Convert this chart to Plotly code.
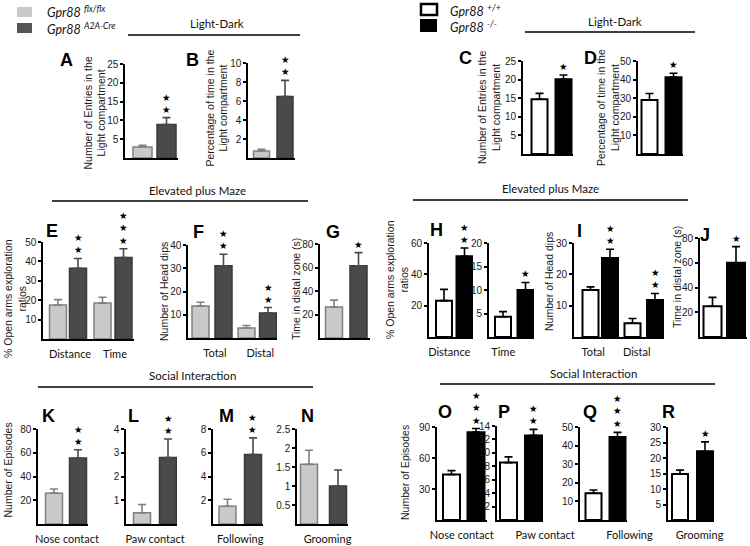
import plotly.graph_objects as go

W, H = 750, 546

# ---------------- data ----------------
left_genotypes = ["Gpr88 flx/flx", "Gpr88 A2A-Cre"]
right_genotypes = ["Gpr88 +/+", "Gpr88 -/-"]

A_categories = ["Entries"]
A_control = [2.9]
A_control_sem = [0.5]
A_mutant = [8.9]
A_mutant_sem = [1.85]
A_stars = [2]
A_yticks = [5, 10, 15, 20, 25]

B_categories = ["Time"]
B_control = [0.74]
B_control_sem = [0.18]
B_mutant = [6.47]
B_mutant_sem = [1.7]
B_stars = [2]
B_yticks = [2, 4, 6, 8, 10]

C_categories = ["Entries"]
C_control = [14.7]
C_control_sem = [1.6]
C_mutant = [20.1]
C_mutant_sem = [1.15]
C_stars = [1]
C_yticks = [5, 10, 15, 20, 25]

D_categories = ["Time"]
D_control = [29.0]
D_control_sem = [3.5]
D_mutant = [41.2]
D_mutant_sem = [2.2]
D_stars = [1]
D_yticks = [10, 20, 30, 40, 50]

E_categories = ["Distance", "Time"]
E_control = [17.5, 18.5]
E_control_sem = [2.8, 3.0]
E_mutant = [36.5, 42.0]
E_mutant_sem = [5.0, 4.5]
E_stars = [2, 3]
E_yticks = [10, 20, 30, 40, 50]

F_categories = ["Total", "Distal"]
F_control = [13.8, 4.3]
F_control_sem = [1.6, 1.1]
F_mutant = [31.1, 10.8]
F_mutant_sem = [4.9, 2.3]
F_stars = [2, 2]
F_yticks = [10, 20, 30, 40]

G_categories = ["Distal zone"]
G_control = [26.4]
G_control_sem = [5.8]
G_mutant = [61.5]
G_mutant_sem = [11.2]
G_stars = [1]
G_yticks = [20, 40, 60, 80]

H1_categories = ["Distance"]
H1_control = [23.2]
H1_control_sem = [7.2]
H1_mutant = [51.5]
H1_mutant_sem = [5.3]
H1_stars = [2]
H1_yticks = [20, 40, 60]

H2_categories = ["Time"]
H2_control = [4.3]
H2_control_sem = [1.1]
H2_mutant = [10.0]
H2_mutant_sem = [1.6]
H2_stars = [1]
H2_yticks = [5, 10, 15, 20]

I_categories = ["Total", "Distal"]
I_control = [15.0, 4.4]
I_control_sem = [1.0, 1.5]
I_mutant = [25.2, 11.8]
I_mutant_sem = [2.8, 2.1]
I_stars = [2, 2]
I_yticks = [10, 20, 30]

J_categories = ["Distal zone"]
J_control = [24.8]
J_control_sem = [7.2]
J_mutant = [60.0]
J_mutant_sem = [13.0]
J_stars = [1]
J_yticks = [20, 40, 60, 80]

K_categories = ["Nose contact"]
K_control = [26.0]
K_control_sem = [3.5]
K_mutant = [55.5]
K_mutant_sem = [7.0]
K_stars = [2]
K_yticks = [20, 40, 60, 80]

L_categories = ["Paw contact"]
L_control = [0.47]
L_control_sem = [0.35]
L_mutant = [2.8]
L_mutant_sem = [0.78]
L_stars = [2]
L_yticks = [1, 2, 3, 4]

M_categories = ["Following"]
M_control = [1.5]
M_control_sem = [0.58]
M_mutant = [5.85]
M_mutant_sem = [1.4]
M_stars = [2]
M_yticks = [2, 4, 6, 8]

N_categories = ["Grooming"]
N_control = [1.57]
N_control_sem = [0.37]
N_mutant = [1.0]
N_mutant_sem = [0.42]
N_stars = [0]
N_yticks = [0.5, 1, 1.5, 2, 2.5]

O_categories = ["Nose contact"]
O_control = [44.0]
O_control_sem = [3.8]
O_mutant = [85.0]
O_mutant_sem = [3.5]
O_stars = [3]
O_yticks = [30, 60, 90]

P_categories = ["Paw contact"]
P_control = [8.55]
P_control_sem = [0.85]
P_mutant = [12.6]
P_mutant_sem = [0.9]
P_stars = [2]
P_yticks = [2, 4, 6, 8, 10, 12, 14]

Q_categories = ["Following"]
Q_control = [14.4]
Q_control_sem = [1.7]
Q_mutant = [44.6]
Q_mutant_sem = [2.5]
Q_stars = [3]
Q_yticks = [10, 20, 30, 40, 50]

R_categories = ["Grooming"]
R_control = [14.8]
R_control_sem = [1.3]
R_mutant = [22.2]
R_mutant_sem = [3.0]
R_stars = [1]
R_yticks = [5, 10, 15, 20, 25, 30]

# ---------------- styles / layout geometry (pixels) ----------------
STYLES = {
    "L": dict(ctrl_fill="#c9c9c9", ctrl_line="#808080", mut_fill="#4a4a4a", mut_line="#3a3a3a",
              ctrl_err="#808080", mut_err="#4a4a4a", axis_w=1.5, bar_lw=1.5),
    "R": dict(ctrl_fill="#ffffff", ctrl_line="#000000", mut_fill="#000000", mut_line="#000000",
              ctrl_err="#000000", mut_err="#000000", axis_w=2, bar_lw=2),
}

def P(cats, ctrl, ctrl_sem, mut, mut_sem, stars, yticks, **geo):
    d = dict(cats=cats, ctrl=ctrl, ctrl_sem=ctrl_sem, mut=mut, mut_sem=mut_sem,
             stars=stars, yticks=yticks, catshift=0)
    d.update(geo)
    return d

panels = [
    P(A_categories, A_control, A_control_sem, A_mutant, A_mutant_sem, A_stars, A_yticks,
      style="L", x0=125, x1=178, ytop=64, ybase=158, centers=[142.5, 166.5], bw=19, showcat=False),
    P(B_categories, B_control, B_control_sem, B_mutant, B_mutant_sem, B_stars, B_yticks,
      style="L", x0=248, x1=295, ytop=63, ybase=158, centers=[261.5, 285], bw=16, showcat=False),
    P(C_categories, C_control, C_control_sem, C_mutant, C_mutant_sem, C_stars, C_yticks,
      style="R", x0=523, x1=573, ytop=61, ybase=154, centers=[539.5, 563.5], bw=16, showcat=False),
    P(D_categories, D_control, D_control_sem, D_mutant, D_mutant_sem, D_stars, D_yticks,
      style="R", x0=638, x1=683, ytop=61, ybase=154, centers=[649.5, 673.5], bw=16, showcat=False),
    P(E_categories, E_control, E_control_sem, E_mutant, E_mutant_sem, E_stars, E_yticks,
      style="L", x0=43, x1=134, ytop=242, ybase=339, centers=[58, 78, 102.5, 123.5], bw=17,
      showcat=True, catshift=2),
    P(F_categories, F_control, F_control_sem, F_mutant, F_mutant_sem, F_stars, F_yticks,
      style="L", x0=188, x1=277, ytop=245, ybase=338, centers=[200.5, 223.5, 246.5, 268], bw=17,
      showcat=True, catshift=3),
    P(G_categories, G_control, G_control_sem, G_mutant, G_mutant_sem, G_stars, G_yticks,
      style="L", x0=320, x1=370, ytop=244, ybase=338, centers=[334, 358.5], bw=17, showcat=False),
    P(H1_categories, H1_control, H1_control_sem, H1_mutant, H1_mutant_sem, H1_stars, H1_yticks,
      style="R", x0=429, x1=473, ytop=243, ybase=337, centers=[444, 464.5], bw=16,
      showcat=True, catshift=-5),
    P(H2_categories, H2_control, H2_control_sem, H2_mutant, H2_mutant_sem, H2_stars, H2_yticks,
      style="R", x0=489, x1=534, ytop=243, ybase=337, centers=[503, 525.5], bw=16,
      showcat=True, catshift=-11),
    P(I_categories, I_control, I_control_sem, I_mutant, I_mutant_sem, I_stars, I_yticks,
      style="R", x0=574, x1=664, ytop=243, ybase=337, centers=[590.5, 610, 632.5, 655], bw=16,
      showcat=True, catshift=-7),
    P(J_categories, J_control, J_control_sem, J_mutant, J_mutant_sem, J_stars, J_yticks,
      style="R", x0=700, x1=747, ytop=238, ybase=337, centers=[712.5, 736], bw=18, showcat=False),
    P(K_categories, K_control, K_control_sem, K_mutant, K_mutant_sem, K_stars, K_yticks,
      style="L", x0=38, x1=88, ytop=429, ybase=524, centers=[54, 78], bw=17, showcat=True, catshift=1),
    P(L_categories, L_control, L_control_sem, L_mutant, L_mutant_sem, L_stars, L_yticks,
      style="L", x0=126, x1=177, ytop=429, ybase=524, centers=[142, 168], bw=17, showcat=True),
    P(M_categories, M_control, M_control_sem, M_mutant, M_mutant_sem, M_stars, M_yticks,
      style="L", x0=213, x1=263, ytop=429, ybase=524, centers=[227.5, 253], bw=17, showcat=True),
    P(N_categories, N_control, N_control_sem, N_mutant, N_mutant_sem, N_stars, N_yticks,
      style="L", x0=297, x1=348, ytop=429, ybase=524, centers=[309, 338], bw=17, showcat=True,
      catshift=4),
    P(O_categories, O_control, O_control_sem, O_mutant, O_mutant_sem, O_stars, O_yticks,
      style="R", x0=437, x1=487, ytop=427, ybase=520, centers=[451.5, 476], bw=17, showcat=True,
      catshift=-2),
    P(P_categories, P_control, P_control_sem, P_mutant, P_mutant_sem, P_stars, P_yticks,
      style="R", x0=497, x1=543, ytop=426, ybase=520, centers=[508.5, 533.5], bw=17, showcat=True,
      catshift=24),
    P(Q_categories, Q_control, Q_control_sem, Q_mutant, Q_mutant_sem, Q_stars, Q_yticks,
      style="R", x0=580, x1=627, ytop=427, ybase=520, centers=[593.5, 617.5], bw=16, showcat=True,
      catshift=24),
    P(R_categories, R_control, R_control_sem, R_mutant, R_mutant_sem, R_stars, R_yticks,
      style="R", x0=668, x1=714, ytop=427, ybase=520, centers=[680, 705], bw=16, showcat=True,
      catshift=7),
]

TICK_FONT = dict(family="Liberation Sans, Arial", size=10, color="#1a1a1a")
CAT_FONT = dict(family="Lato, Open Sans", size=11, color="#111111")
STAR_FONT = dict(family="DejaVu Sans", size=9.5, color="#000000")

fig = go.Figure()
annotations = []
shapes = []
layout_axes = {}

for k, p in enumerate(panels, start=1):
    sfx = "" if k == 1 else str(k)
    xa, ya = "x" + sfx, "y" + sfx
    st = STYLES[p["style"]]
    n = len(p["cats"])
    c = p["centers"]
    pos = [(c[2 * i] + c[2 * i + 1]) / 2 for i in range(n)]
    s = (pos[1] - pos[0]) if n > 1 else 60.0
    p0 = pos[0]
    u = lambda px, p0=p0, s=s: (px - p0) / s
    bw = p["bw"] / s
    off_c = [u(c[2 * i]) - i - bw / 2 for i in range(n)]
    off_m = [u(c[2 * i + 1]) - i - bw / 2 for i in range(n)]
    names = left_genotypes if p["style"] == "L" else right_genotypes

    fig.add_trace(go.Bar(
        x=p["cats"], y=p["ctrl"], width=[bw] * n, offset=off_c, name=names[0],
        xaxis=xa, yaxis=ya, showlegend=False,
        marker=dict(color=st["ctrl_fill"], line=dict(color=st["ctrl_line"], width=st["bar_lw"])),
        error_y=dict(type="data", symmetric=False, array=p["ctrl_sem"], arrayminus=[0] * n,
                     color=st["ctrl_err"], thickness=1.6, width=4),
    ))
    fig.add_trace(go.Bar(
        x=p["cats"], y=p["mut"], width=[bw] * n, offset=off_m, name=names[1],
        xaxis=xa, yaxis=ya, showlegend=False,
        marker=dict(color=st["mut_fill"], line=dict(color=st["mut_line"], width=st["bar_lw"])),
        error_y=dict(type="data", symmetric=False, array=p["mut_sem"], arrayminus=[0] * n,
                     color=st["mut_err"], thickness=1.6, width=4),
    ))

    layout_axes["xaxis" + sfx] = dict(
        domain=[p["x0"] / W, p["x1"] / W], anchor=ya, type="category",
        range=[u(p["x0"]), u(p["x1"])], showline=True, linecolor="black",
        linewidth=st["axis_w"], ticks="", showticklabels=p["showcat"], tickfont=CAT_FONT,
        ticklabelstandoff=4, ticklabelshift=p["catshift"], showgrid=False, zeroline=False,
        fixedrange=True, automargin=False,
    )
    layout_axes["yaxis" + sfx] = dict(
        domain=[1 - p["ybase"] / H, 1 - p["ytop"] / H], anchor=xa,
        range=[0, max(p["yticks"])], tickvals=p["yticks"], ticks="outside", ticklen=3,
        tickwidth=1.5, tickcolor="black", showline=True, linecolor="black",
        linewidth=st["axis_w"], showgrid=False, zeroline=False, tickfont=TICK_FONT,
        fixedrange=True, automargin=False,
    )

    for i in range(n):
        if p["stars"][i] > 0:
            annotations.append(dict(
                x=u(c[2 * i + 1]), y=p["mut"][i] + p["mut_sem"][i], xref=xa, yref=ya,
                text="<br>".join(["★"] * p["stars"][i]), showarrow=False, borderpad=0,
                yanchor="bottom", xanchor="center", yshift=2, font=STAR_FONT,
            ))

# panel letters
letters = [("A", 66, 60), ("B", 192, 60), ("C", 465, 58), ("D", 590, 58),
           ("E", 52, 231), ("F", 199, 232), ("G", 333, 232), ("H", 436, 230),
           ("I", 579, 231), ("J", 705, 235),
           ("K", 48, 416), ("L", 133, 416), ("M", 226, 416), ("N", 307, 416),
           ("O", 445, 412), ("P", 504, 412), ("Q", 590, 412), ("R", 668, 412)]
for t, x, y in letters:
    annotations.append(dict(x=x / W, y=1 - y / H, xref="paper", yref="paper", text="<b>%s</b>" % t,
                            showarrow=False, xanchor="center", yanchor="middle",
                            font=dict(family="Liberation Sans, Arial", size=18, color="#000")))

# y-axis titles
ytitles = [
    ("Number of Entries in the<br>Light compartment", 94.5, 113),
    ("Percentage of time in the<br>Light compartment", 216.5, 108),
    ("Number of Entries in the<br>Light compartment", 489, 108),
    ("Percentage of time in the<br>Light compartment", 608, 108),
    ("% Open arms exploration<br>ratios", 15, 299),
    ("Number of Head dips", 164, 292),
    ("Time in distal zone (s)", 296, 289),
    ("% Open arms exploration<br>ratios", 397, 280),
    ("Number of Head dips", 549, 282),
    ("Time in distal zone (s)", 677, 277),
    ("Number of Episodes", 7.5, 470),
    ("Number of Episodes", 405, 473),
]
for t, x, y in ytitles:
    annotations.append(dict(x=x / W, y=1 - y / H, xref="paper", yref="paper", text=t, textangle=-90,
                            showarrow=False, xanchor="center", yanchor="middle",
                            font=dict(family="Liberation Sans, Arial", size=10.5, color="#1a1a1a")))

# section headers with rules
headers = [
    ("Light-Dark", 217, 24, 128, 300, 35),
    ("Light-Dark", 615, 22, 525, 695, 32),
    ("Elevated plus Maze", 197, 190, 52, 308, 201),
    ("Elevated plus Maze", 550, 188, 413, 688, 200),
    ("Social Interaction", 192, 375, 38, 313, 387),
    ("Social Interaction", 593, 373, 440, 715, 384),
]
for t, tx, ty, lx0, lx1, ly in headers:
    annotations.append(dict(x=tx / W, y=1 - ty / H, xref="paper", yref="paper", text=t,
                            showarrow=False, xanchor="center", yanchor="middle",
                            font=dict(family="Lato, Open Sans", size=11.5, color="#111")))
    shapes.append(dict(type="line", xref="paper", yref="paper", x0=lx0 / W, x1=lx1 / W,
                       y0=1 - ly / H, y1=1 - ly / H, line=dict(color="black", width=1.5)))

# legends (swatches + labels)
legend_items = [
    (17, 7, 32, 17, "#c9c9c9", "#c9c9c9", 0, 45, 11, "<i>Gpr88</i> <sup><i>flx/flx</i></sup>"),
    (17, 23, 32, 33, "#555555", "#555555", 0, 45, 28, "<i>Gpr88</i> <sup><i>A2A-Cre</i></sup>"),
    (421, 4, 437, 15, "#ffffff", "#000000", 2.5, 448, 10, "<i>Gpr88</i> <sup><i>+/+</i></sup>"),
    (420, 19, 437, 32, "#000000", "#000000", 0, 448, 26, "<i>Gpr88</i> <sup><i>-/-</i></sup>"),
]
for x0, y0, x1, y1, fill, line, lw, tx, ty, txt in legend_items:
    shapes.append(dict(type="rect", xref="paper", yref="paper", x0=x0 / W, x1=x1 / W,
                       y0=1 - y1 / H, y1=1 - y0 / H, fillcolor=fill,
                       line=dict(color=line, width=lw)))
    annotations.append(dict(x=tx / W, y=1 - ty / H, xref="paper", yref="paper", text=txt,
                            showarrow=False, xanchor="left", yanchor="middle",
                            font=dict(family="Lato, Open Sans", size=12.5, color="#111")))

fig.update_layout(
    width=W, height=H, margin=dict(l=0, r=0, t=0, b=0, autoexpand=False),
    paper_bgcolor="white", plot_bgcolor="white", barmode="overlay",
    showlegend=False, annotations=annotations, shapes=shapes, **layout_axes,
)

fig.write_html("out.html", config={"displayModeBar": False},
               post_script="document.body.style.margin='0';document.body.style.padding='0';")
